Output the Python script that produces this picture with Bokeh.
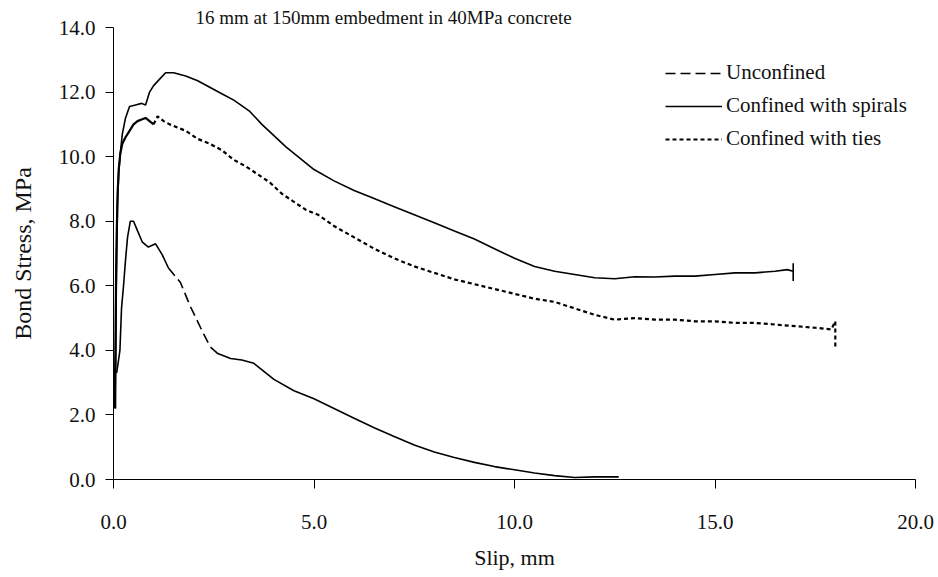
from bokeh.plotting import figure
from bokeh.models import Legend, LegendItem, PrintfTickFormatter, FixedTicker, Range1d
from bokeh.embed import file_html
from bokeh.resources import INLINE

FONT = "Liberation Serif"

title_text = "16 mm at 150mm embedment in 40MPa concrete"
x_label = "Slip, mm"
y_label = "Bond Stress, MPa"
x_ticks = [0, 5, 10, 15, 20]
y_ticks = [0, 2, 4, 6, 8, 10, 12, 14]

# Unconfined
unc_slip = [0.08, 0.16, 0.2, 0.25, 0.3, 0.35, 0.42, 0.5, 0.6, 0.72, 0.87, 1.05, 1.22, 1.37,
            1.67, 1.92, 2.25, 2.42, 2.6, 2.92, 3.2, 3.5, 3.75, 4.0, 4.5, 5.0, 5.5, 6.0, 6.5,
            7.0, 7.5, 8.0, 8.5, 9.0, 9.5, 10.0, 10.5, 11.0, 11.5, 12.0, 12.6]
unc_stress = [3.3, 4.0, 5.3, 6.0, 6.8, 7.5, 8.0, 8.0, 7.7, 7.35, 7.2, 7.3, 6.95, 6.55,
              6.1, 5.35, 4.5, 4.1, 3.9, 3.75, 3.7, 3.6, 3.35, 3.1, 2.75, 2.5, 2.2, 1.9, 1.6,
              1.33, 1.07, 0.85, 0.68, 0.53, 0.4, 0.3, 0.2, 0.12, 0.06, 0.08, 0.08]

# Confined with spirals
spi_slip = [0.05, 0.07, 0.1, 0.13, 0.17, 0.22, 0.3, 0.4, 0.55, 0.7, 0.8, 0.9, 1.0, 1.15, 1.3,
            1.5, 1.8, 2.1, 2.4, 2.7, 3.0, 3.4, 3.7, 4.0, 4.3, 4.6, 5.0, 5.5, 6.0, 6.5, 7.0,
            7.5, 8.0, 8.5, 9.0, 9.5, 10.0, 10.5, 11.0, 11.5, 12.0, 12.5, 13.0, 13.5, 14.0,
            14.5, 15.0, 15.5, 16.0, 16.5, 16.8, 16.95, 16.95, 16.95]
spi_stress = [2.2, 6.0, 8.5, 9.5, 10.1, 10.7, 11.2, 11.55, 11.6, 11.65, 11.6, 12.0, 12.2, 12.4,
              12.6, 12.6, 12.5, 12.35, 12.15, 11.95, 11.75, 11.4, 11.0, 10.65, 10.3, 10.0,
              9.6, 9.25, 8.95, 8.7, 8.45, 8.2, 7.95, 7.7, 7.45, 7.15, 6.85, 6.6, 6.45, 6.35,
              6.25, 6.22, 6.28, 6.27, 6.3, 6.3, 6.35, 6.4, 6.4, 6.45, 6.5, 6.45, 6.7, 6.15]

# Confined with ties
tie_slip = [0.03, 0.05, 0.07, 0.1, 0.13, 0.17, 0.22, 0.3, 0.4, 0.5, 0.6, 0.7, 0.8, 0.9, 1.0,
            1.1, 1.25, 1.4, 1.6, 1.8, 2.1, 2.4, 2.7, 3.0, 3.3, 3.6, 3.9, 4.2, 4.5, 4.8, 5.1,
            5.5, 6.0, 6.5, 7.0, 7.5, 8.0, 8.5, 9.0, 9.5, 10.0, 10.5, 11.0, 11.5, 12.0, 12.5,
            13.0, 13.5, 14.0, 14.5, 15.0, 15.5, 16.0, 16.5, 17.0, 17.5, 17.9, 18.0, 18.0]
tie_stress = [2.2, 4.5, 7.0, 8.8, 9.6, 10.1, 10.4, 10.6, 10.8, 11.0, 11.1, 11.15, 11.2, 11.1,
              11.0, 11.25, 11.1, 11.0, 10.9, 10.8, 10.55, 10.4, 10.2, 9.9, 9.7, 9.45, 9.2,
              8.85, 8.6, 8.35, 8.2, 7.85, 7.5, 7.15, 6.85, 6.6, 6.4, 6.2, 6.05, 5.9, 5.75,
              5.6, 5.5, 5.3, 5.1, 4.95, 5.0, 4.95, 4.95, 4.9, 4.9, 4.85, 4.85, 4.8, 4.75,
              4.7, 4.65, 4.9, 4.1]

p = figure(width=935, height=575, x_range=Range1d(0, 20), y_range=Range1d(0, 14),
           output_backend="svg", toolbar_location=None,
           min_border_left=113, min_border_right=20, min_border_top=27, min_border_bottom=96)

p.title.text = title_text
p.title.align = "left"
p.title.offset = 82
p.title.standoff = 0
p.title.text_font = FONT
p.title.text_font_size = "19px"
p.title.text_font_style = "normal"
p.title.text_color = "#111111"

p.outline_line_color = None
p.grid.visible = False
p.background_fill_color = "white"
p.border_fill_color = "white"

for ax in (p.xaxis[0], p.yaxis[0]):
    ax.formatter = PrintfTickFormatter(format="%.1f")
    ax.axis_line_color = "black"
    ax.major_tick_line_color = "black"
    ax.major_tick_in = 0
    ax.minor_tick_in = 0
    ax.minor_tick_out = 0
    ax.major_label_text_font = FONT
    ax.major_label_text_font_size = "21px"
    ax.major_label_text_color = "#111111"
    ax.axis_label_text_font = FONT
    ax.axis_label_text_font_style = "normal"
    ax.axis_label_text_color = "#111111"

p.xaxis.ticker = FixedTicker(ticks=x_ticks)
p.yaxis.ticker = FixedTicker(ticks=y_ticks)
p.xaxis.major_tick_out = 9
p.yaxis.major_tick_out = 8
p.xaxis.major_label_standoff = 26
p.yaxis.major_label_standoff = 10
p.xaxis.axis_label = x_label
p.yaxis.axis_label = y_label
p.xaxis.axis_label_text_font_size = "22px"
p.yaxis.axis_label_text_font_size = "24px"
p.xaxis.axis_label_standoff = 13
p.yaxis.axis_label_standoff = 20

LW = 1.6
# unconfined: solid head, dashed steep drop, solid tail
i1, i2 = 13, 17
p.line(unc_slip[:i1 + 1], unc_stress[:i1 + 1], line_color="black", line_width=LW)
r_unc = p.line(unc_slip[i1:i2 + 1], unc_stress[i1:i2 + 1], line_color="black",
               line_width=LW, line_dash="10 5")
p.line(unc_slip[i2:], unc_stress[i2:], line_color="black", line_width=LW)

r_spi = p.line(spi_slip, spi_stress, line_color="black", line_width=LW)

j = 14
p.line(tie_slip[:j + 1], tie_stress[:j + 1], line_color="black", line_width=2.2)
r_tie = p.line(tie_slip[j:], tie_stress[j:], line_color="black", line_width=2.2,
               line_dash="4 3")

legend = Legend(items=[LegendItem(label="Unconfined", renderers=[r_unc]),
                       LegendItem(label="Confined with spirals", renderers=[r_spi]),
                       LegendItem(label="Confined with ties", renderers=[r_tie])],
                location=(552, 328), glyph_width=57, glyph_height=24, spacing=8,
                label_standoff=4, padding=4, margin=0, border_line_color=None,
                background_fill_alpha=0, label_text_font=FONT,
                label_text_font_size="21px", label_text_color="#111111")
p.add_layout(legend)

open("out.html", "w").write(file_html(p, INLINE))
